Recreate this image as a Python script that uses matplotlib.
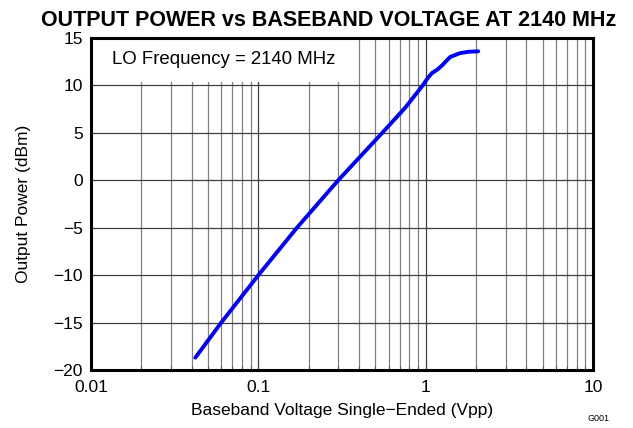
import numpy as np
import matplotlib.pyplot as plt
from matplotlib.patches import Rectangle
from matplotlib.ticker import LogLocator, NullFormatter

plt.rcParams['font.family'] = ['Liberation Sans', 'DejaVu Sans']

# baseband voltage (Vpp) and output power (dBm)
voltage = [0.042, 0.06, 0.1, 0.17, 0.3, 0.55, 0.75, 0.96, 1.03, 1.09, 1.18, 1.25, 1.4, 1.6, 1.8, 2.06]
power = [-18.7, -15.0, -10.0, -5.0, 0.0, 5.0, 7.6, 10.0, 10.8, 11.3, 11.7, 12.1, 13.0, 13.4, 13.55, 13.6]

xticks = [0.01, 0.1, 1, 10]
xticklabels = ['0.01', '0.1', '1', '10']
yticks = [-20, -15, -10, -5, 0, 5, 10, 15]
yticklabels = ['\u221220', '\u221215', '\u221210', '\u22125', '0', '5', '10', '15']

fig = plt.figure(figsize=(6.33, 4.28), dpi=100)
ax = fig.add_axes([0.1438, 0.1355, 0.793, 0.7757])
ax.set_axisbelow(True)

ax.plot(voltage, power, color='#0000ff', lw=2.8, solid_capstyle='round', zorder=3)

ax.set_xscale('log')
ax.set_xlim(0.01, 10)
ax.set_ylim(-20, 15)
ax.set_xticks(xticks)
ax.set_xticklabels(xticklabels, fontsize=12.5)
ax.xaxis.set_minor_locator(LogLocator(base=10, subs=np.arange(2, 10)))
ax.xaxis.set_minor_formatter(NullFormatter())
ax.set_yticks(yticks)
ax.set_yticklabels(yticklabels, fontsize=12.5)

ax.grid(True, which='major', color='#404040', lw=0.9)
ax.grid(True, which='minor', axis='x', color='#808080', lw=0.9)
ax.tick_params(which='both', direction='in', length=3, color='#404040')
ax.tick_params(axis='y', pad=6)
ax.tick_params(axis='x', pad=7)
for s in ax.spines.values():
    s.set_linewidth(2.2)

# white label area covering the grid in the upper-left corner
ax.add_patch(Rectangle((0.01, 10.35), 0.385, 4.65, fc='white', ec='none', zorder=1))
ax.text(0.01336, 12.7, 'LO Frequency = 2140 MHz', fontsize=13.4, va='center', ha='left', zorder=2)

ax.set_xlabel('Baseband Voltage Single\u2212Ended (Vpp)', fontsize=12.5, labelpad=6)
ax.set_ylabel('Output Power (dBm)', fontsize=12.5, labelpad=16)
ax.set_title('OUTPUT POWER vs BASEBAND VOLTAGE AT 2140 MHz', fontsize=15.5,
             fontweight='bold', pad=9, x=0.474)

fig.text(0.945, 0.012, 'G001', fontsize=6.5, ha='center', va='bottom')

fig.savefig('out.png', dpi=100)
